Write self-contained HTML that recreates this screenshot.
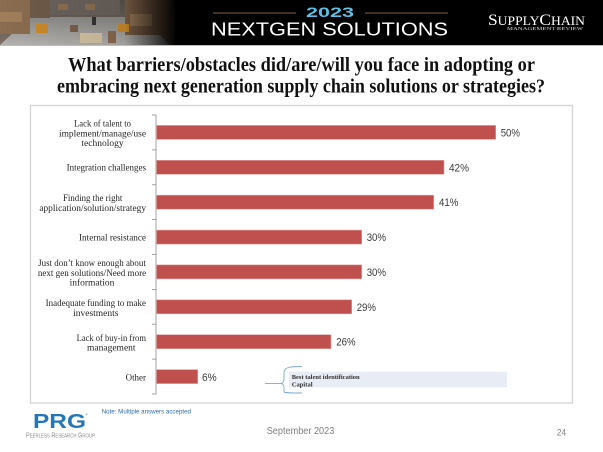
<!DOCTYPE html>
<html><head><meta charset="utf-8">
<style>
html,body{margin:0;padding:0;background:#fff;}
svg{display:block;}
.cat{font-family:"Liberation Serif",serif;font-size:9.5px;fill:#262626;}
.val{font-family:"Liberation Sans",sans-serif;font-size:11px;fill:#3a3a3a;}
</style></head>
<body>
<svg width="603" height="452" viewBox="0 0 603 452" xmlns="http://www.w3.org/2000/svg">
<defs>
<linearGradient id="fade" x1="0" y1="0" x2="1" y2="0">
<stop offset="0" stop-color="#000" stop-opacity="0"/>
<stop offset="0.7" stop-color="#000" stop-opacity="0.1"/>
<stop offset="1" stop-color="#000" stop-opacity="1"/>
</linearGradient>
<linearGradient id="floor" x1="0" y1="0" x2="0" y2="1">
<stop offset="0" stop-color="#8c8a87"/>
<stop offset="1" stop-color="#b4b2ae"/>
</linearGradient>
<linearGradient id="top" x1="0" y1="0" x2="0" y2="1">
<stop offset="0" stop-color="#5a524c"/>
<stop offset="1" stop-color="#7a6f66"/>
</linearGradient>
</defs>
<!-- header -->
<rect x="0" y="0" width="603" height="45" fill="#000"/>
<rect x="0" y="0" width="175" height="45" fill="url(#top)"/>
<polygon points="30,17 140,17 170,45 0,45" fill="url(#floor)"/>
<!-- left shelving -->
<rect x="0" y="0" width="30" height="34" fill="#8a6c50"/>
<rect x="0" y="12" width="22" height="10" fill="#a07e5c"/>
<rect x="30" y="0" width="20" height="18" fill="#6e5a48"/>
<!-- back shelving -->
<rect x="50" y="0" width="70" height="15" fill="#6a625c"/>
<rect x="58" y="4" width="10" height="6" fill="#8c6e52"/>
<rect x="85" y="4" width="10" height="6" fill="#8c6e52"/>
<!-- right shelving -->
<rect x="125" y="0" width="45" height="35" fill="#7a5e46"/>
<rect x="130" y="14" width="22" height="12" fill="#9a7a5a"/>
<!-- forklifts etc -->
<rect x="36" y="24" width="12" height="9" fill="#c98a2a"/>
<rect x="118" y="24" width="11" height="8" fill="#c98a2a"/>
<rect x="70" y="25" width="8" height="7" fill="#7a604c"/>
<rect x="92" y="17" width="4" height="8" fill="#333"/>
<rect x="80" y="33" width="22" height="10" fill="#d4c4a4"/>
<rect x="108" y="31" width="8" height="12" fill="#8a6a50"/>
<rect x="0" y="0" width="178" height="45" fill="url(#fade)"/>
<line x1="0" y1="45.5" x2="603" y2="45.5" stroke="#bdbdbd" stroke-width="1"/>
<line x1="213" y1="13" x2="296" y2="13" stroke="#7d6443" stroke-width="1"/>
<line x1="365" y1="13" x2="448" y2="13" stroke="#7d6443" stroke-width="1"/>
<text x="306" y="17" textLength="48" lengthAdjust="spacingAndGlyphs" font-family="Liberation Sans,sans-serif" font-weight="bold" font-size="13.5" fill="#5bc0e6">2023</text>
<text x="211" y="35.5" textLength="237" lengthAdjust="spacingAndGlyphs" font-family="Liberation Sans,sans-serif" font-size="18" fill="#fff">NEXTGEN SOLUTIONS</text>
<text x="488" y="25" textLength="97" lengthAdjust="spacingAndGlyphs" font-family="Liberation Serif,serif" font-size="16" fill="#fff">S<tspan font-size="12.5">UPPLY</tspan>C<tspan font-size="12.5">HAIN</tspan></text>
<text x="507" y="30" textLength="76" lengthAdjust="spacingAndGlyphs" font-family="Liberation Serif,serif" font-size="4" fill="#ddd">MANAGEMENT REVIEW</text>

<!-- title -->
<text x="68" y="71" textLength="467" lengthAdjust="spacingAndGlyphs" font-family="Liberation Serif,serif" font-weight="bold" font-size="19.5" fill="#111">What barriers/obstacles did/are/will you face in adopting or</text>
<text x="57" y="92.5" textLength="488" lengthAdjust="spacingAndGlyphs" font-family="Liberation Serif,serif" font-weight="bold" font-size="19.5" fill="#111">embracing next generation supply chain solutions or strategies?</text>

<!-- chart box -->
<rect x="30.5" y="105.5" width="542" height="297.5" fill="#fff" stroke="#d4d4d4" stroke-width="1.3"/>

<!-- axis -->
<line x1="156" y1="115" x2="156" y2="394" stroke="#8c8c8c" stroke-width="0.8"/>
<g stroke="#8c8c8c" stroke-width="0.8">
<line x1="152" y1="115" x2="156" y2="115"/>
<line x1="152" y1="149.9" x2="156" y2="149.9"/>
<line x1="152" y1="184.8" x2="156" y2="184.8"/>
<line x1="152" y1="219.6" x2="156" y2="219.6"/>
<line x1="152" y1="254.5" x2="156" y2="254.5"/>
<line x1="152" y1="289.4" x2="156" y2="289.4"/>
<line x1="152" y1="324.2" x2="156" y2="324.2"/>
<line x1="152" y1="359.1" x2="156" y2="359.1"/>
<line x1="152" y1="394" x2="156" y2="394"/>
</g>

<!-- bars -->
<g fill="#c0504d" stroke="#e0a3a1" stroke-width="0.6">
<rect x="156.5" y="125.4" width="339.2" height="14"/>
<rect x="156.5" y="160.3" width="287.5" height="14"/>
<rect x="156.5" y="195.2" width="277.2" height="14"/>
<rect x="156.5" y="230.1" width="205.2" height="14"/>
<rect x="156.5" y="264.9" width="205.2" height="14"/>
<rect x="156.5" y="299.8" width="195.2" height="14"/>
<rect x="156.5" y="334.7" width="174.5" height="14"/>
<rect x="156.5" y="369.6" width="41.2" height="14"/>
</g>

<!-- values -->
<text class="val" x="500.7" y="136.4" textLength="19.3" lengthAdjust="spacingAndGlyphs">50%</text>
<text class="val" x="449" y="171.3" textLength="20" lengthAdjust="spacingAndGlyphs">42%</text>
<text class="val" x="439" y="206.2" textLength="19.3" lengthAdjust="spacingAndGlyphs">41%</text>
<text class="val" x="366.7" y="241.1" textLength="19.3" lengthAdjust="spacingAndGlyphs">30%</text>
<text class="val" x="366.7" y="275.9" textLength="19.3" lengthAdjust="spacingAndGlyphs">30%</text>
<text class="val" x="356.7" y="310.8" textLength="19.3" lengthAdjust="spacingAndGlyphs">29%</text>
<text class="val" x="336.3" y="345.7" textLength="19.3" lengthAdjust="spacingAndGlyphs">26%</text>
<text class="val" x="202" y="381" font-size="12.5" textLength="14.7" lengthAdjust="spacingAndGlyphs">6%</text>

<!-- category labels -->
<g class="cat" text-anchor="middle">
<text x="102.5" y="126.5" textLength="57" lengthAdjust="spacingAndGlyphs">Lack of talent to</text>
<text x="102.5" y="136.5" textLength="87" lengthAdjust="spacingAndGlyphs">implement/manage/use</text>
<text x="102.5" y="146">technology</text>

<text x="106.3" y="170.5" textLength="79.3" lengthAdjust="spacingAndGlyphs">Integration challenges</text>

<text x="92.7" y="201" textLength="59.4" lengthAdjust="spacingAndGlyphs">Finding the right</text>
<text x="92.7" y="211" textLength="106.7" lengthAdjust="spacingAndGlyphs">application/solution/strategy</text>

<text x="112.5" y="240.5" textLength="67" lengthAdjust="spacingAndGlyphs">Internal resistance</text>

<text x="92" y="266" textLength="107.7" lengthAdjust="spacingAndGlyphs">Just don’t know enough about</text>
<text x="92" y="276" textLength="108.3" lengthAdjust="spacingAndGlyphs">next gen solutions/Need more</text>
<text x="92" y="285.5">information</text>

<text x="95.8" y="306" textLength="100.3" lengthAdjust="spacingAndGlyphs">Inadequate funding to make</text>
<text x="95.8" y="316">investments</text>

<text x="111.3" y="341.2" textLength="69.3" lengthAdjust="spacingAndGlyphs">Lack of buy-in from</text>
<text x="111.3" y="350.7">management</text>

<text x="135.8" y="380.3" textLength="20.3" lengthAdjust="spacingAndGlyphs">Other</text>
</g>

<!-- callout -->
<rect x="289" y="371.7" width="218" height="15.6" fill="#e8ecf4"/>
<path d="M302,366.5 C290,366.5 285,367 284,372 L284,379 C284,382 283,383 281,383.5 C283,384 284,385 284,388 L284,392 C285,393 290,393 302,393" fill="none" stroke="#7ea7d4" stroke-width="0.9"/>
<line x1="265" y1="383.5" x2="281" y2="383.5" stroke="#7ea7d4" stroke-width="0.9"/>
<text x="291.7" y="378.8" textLength="68" lengthAdjust="spacingAndGlyphs" font-family="Liberation Serif,serif" font-weight="bold" font-size="6.6" fill="#333">Best talent identification</text>
<text x="291.7" y="386.3" font-family="Liberation Serif,serif" font-weight="bold" font-size="6.6" fill="#333">Capital</text>

<!-- footer -->
<text x="101.7" y="413.5" textLength="89.3" lengthAdjust="spacingAndGlyphs" font-family="Liberation Sans,sans-serif" font-size="6.6" fill="#2e6aaa">Note: Multiple answers accepted</text>
<text x="33" y="428" textLength="53" lengthAdjust="spacingAndGlyphs" font-family="Liberation Sans,sans-serif" font-weight="bold" font-size="20" fill="#2277bb">PRG</text>
<text x="85.5" y="415.5" font-family="Liberation Sans,sans-serif" font-size="3" fill="#2277bb">®</text>
<text x="26" y="437.5" textLength="69" lengthAdjust="spacingAndGlyphs" font-family="Liberation Sans,sans-serif" font-size="7" fill="#8a8a8a">P<tspan font-size="5.5">EERLESS</tspan> R<tspan font-size="5.5">ESEARCH</tspan> G<tspan font-size="5.5">ROUP</tspan></text>
<text x="266.7" y="434" textLength="67.6" lengthAdjust="spacingAndGlyphs" font-family="Liberation Sans,sans-serif" font-size="10" fill="#7f7f7f">September 2023</text>
<text x="556.7" y="435.3" textLength="9.5" lengthAdjust="spacingAndGlyphs" font-family="Liberation Sans,sans-serif" font-size="9.5" fill="#7f7f7f">24</text>
</svg>
</body></html>
